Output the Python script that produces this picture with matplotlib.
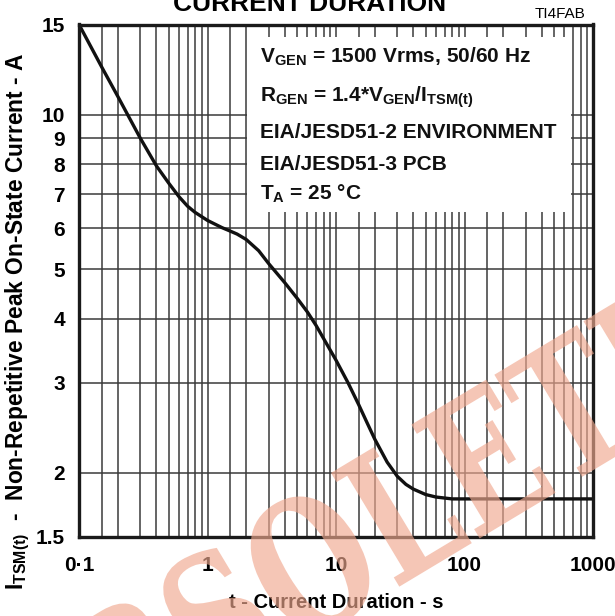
import matplotlib
matplotlib.use("Agg")
import matplotlib.pyplot as plt
from matplotlib.patches import Rectangle, PathPatch
from matplotlib.textpath import TextPath
from matplotlib.font_manager import FontProperties
from matplotlib.transforms import Affine2D
from matplotlib.ticker import NullFormatter

plt.rcParams['font.family'] = ['Liberation Sans', 'DejaVu Sans']
plt.rcParams['mathtext.fontset'] = 'custom'
plt.rcParams['mathtext.rm'] = 'Liberation Sans:bold'
plt.rcParams['mathtext.it'] = 'Liberation Sans:bold'
plt.rcParams['mathtext.bf'] = 'Liberation Sans:bold'

# ---- data ----
duration_s = [0.1, 0.15, 0.2, 0.3, 0.4, 0.5, 0.6, 0.7, 0.8, 1.0, 1.3, 1.5, 1.7,
              2.0, 2.5, 3.0, 4.0, 5.0, 6.0, 7.0, 8.0, 10, 12.4, 15, 17.4, 20, 25,
              30, 35, 40, 50, 60, 80, 100, 1000]
current_a = [15.0, 12.4, 10.87, 9.0, 7.95, 7.35, 6.92, 6.63, 6.45, 6.22, 6.02, 5.93, 5.85,
             5.71, 5.43, 5.12, 4.70, 4.38, 4.12, 3.88, 3.66, 3.32, 3.0, 2.72, 2.51, 2.33, 2.1,
             1.97, 1.90, 1.86, 1.815, 1.795, 1.78, 1.78, 1.78]

x_major = [0.1, 1, 10, 100, 1000]
x_major_labels = ['0·1', '1', '10', '100', '1000']
y_ticks = [1.5, 2, 3, 4, 5, 6, 7, 8, 9, 10, 15]
y_tick_labels = ['1.5', '2', '3', '4', '5', '6', '7', '8', '9', '10', '15']
y_grid = [2, 3, 4, 5, 6, 7, 8, 9, 10]
minor_mult = [1.5, 2, 3, 4, 5, 6, 7, 8, 9]

info_lines = [
    r'$\mathrm{V_{GEN}}$ = 1500 Vrms, 50/60 Hz',
    r'$\mathrm{R_{GEN}}$ = 1.4*$\mathrm{V_{GEN}/I_{TSM(t)}}$',
    'EIA/JESD51-2 ENVIRONMENT',
    'EIA/JESD51-3 PCB',
    r'$\mathrm{T_A}$ = 25 °C',
]

W, H = 615, 616
fig = plt.figure(figsize=(W / 100, H / 100), dpi=100)
L, R, T, B = 79, 593, 24.5, 537
ax = fig.add_axes([L / W, 1 - B / H, (R - L) / W, (B - T) / H])
ax.set_xscale('log')
ax.set_yscale('log')
ax.set_xlim(0.1, 1000)
ax.set_ylim(1.5, 15)

ax.set_axisbelow(True)
minors = [m * 10 ** k for k in range(-1, 3) for m in minor_mult]
ax.set_xticks(x_major)
ax.set_xticklabels(x_major_labels)
ax.set_xticks(minors, minor=True)
ax.xaxis.set_minor_formatter(NullFormatter())
ax.set_yticks(y_ticks)
ax.set_yticklabels(y_tick_labels)
ax.set_yticks([], minor=True)
ax.yaxis.set_minor_formatter(NullFormatter())
ax.tick_params(which='both', length=0)
ax.tick_params(axis='x', pad=14, labelsize=15)
ax.tick_params(axis='y', pad=10, labelsize=15)
for lab in ax.get_xticklabels() + ax.get_yticklabels():
    lab.set_fontweight('bold')

gc = '#3a3a3a'
ax.grid(True, which='both', axis='x', color=gc, lw=1.1)
for yv in y_grid:
    ax.axhline(yv, color=gc, lw=1.1, zorder=0.5)

for s in ax.spines.values():
    s.set_linewidth(2.4)
    s.set_color('#1a1a1a')
    s.set_zorder(3)

# white info box
bx0, bx1 = (247 - L) / (R - L), (571 - L) / (R - L)
by0, by1 = (B - 212) / (B - T), (B - 37) / (B - T)
ax.add_patch(Rectangle((bx0, by0), bx1 - bx0, by1 - by0, transform=ax.transAxes,
                       facecolor='white', edgecolor='none', zorder=1))
ys_px = [57, 97, 132, 165, 194]
for txt, ypx in zip(info_lines, ys_px):
    ax.text((260 - L) / (R - L), (B - ypx) / (B - T), txt, transform=ax.transAxes,
            fontsize=15, fontweight='bold', ha='left', va='center', zorder=4,
            color='#111111')

ax.plot(duration_s, current_a, color='#111111', lw=2.4, zorder=2.5,
        solid_joinstyle='round')

ax.set_xlabel('t - Current Duration - s', fontsize=14.5, fontweight='bold')
ax.xaxis.set_label_coords(0.5, (B - 603) / (B - T))
ax.xaxis.label.set_va('center')

fig.text(18 / W, 1 - 590 / H,
         r'$\mathrm{I_{TSM(t)}}$  -  Non-Repetitive Peak On-State Current - A',
         rotation=90, rotation_mode='anchor', fontsize=16.4, fontweight='bold',
         ha='left', va='center')

fig.text(310 / W, 1 - 11 / H, 'CURRENT DURATION', fontsize=19, fontweight='bold',
         ha='center', va='baseline')
fig.text(560 / W, 1 - 18 / H, 'TI4FAB', fontsize=11, ha='center', va='baseline')

# watermark
fp = FontProperties(family='DejaVu Serif', weight='bold')
tp = TextPath((0, 0), 'OBSOLETE', size=182, prop=fp)
bb = tp.get_extents()
cx, cy = (bb.x0 + bb.x1) / 2, (bb.y0 + bb.y1) / 2
sx = 825.0 / (bb.x1 - bb.x0)
tr = (Affine2D().translate(-cx, -cy).scale(sx, 1.0).rotate_deg(31)
      .translate(340, H - 545).scale(1 / W, 1 / H) + fig.transFigure)
wm = PathPatch(tp, transform=tr, facecolor=(0.94, 0.66, 0.56), edgecolor='none',
               alpha=0.65, zorder=10)
fig.add_artist(wm)

fig.savefig('out.png', dpi=100)
